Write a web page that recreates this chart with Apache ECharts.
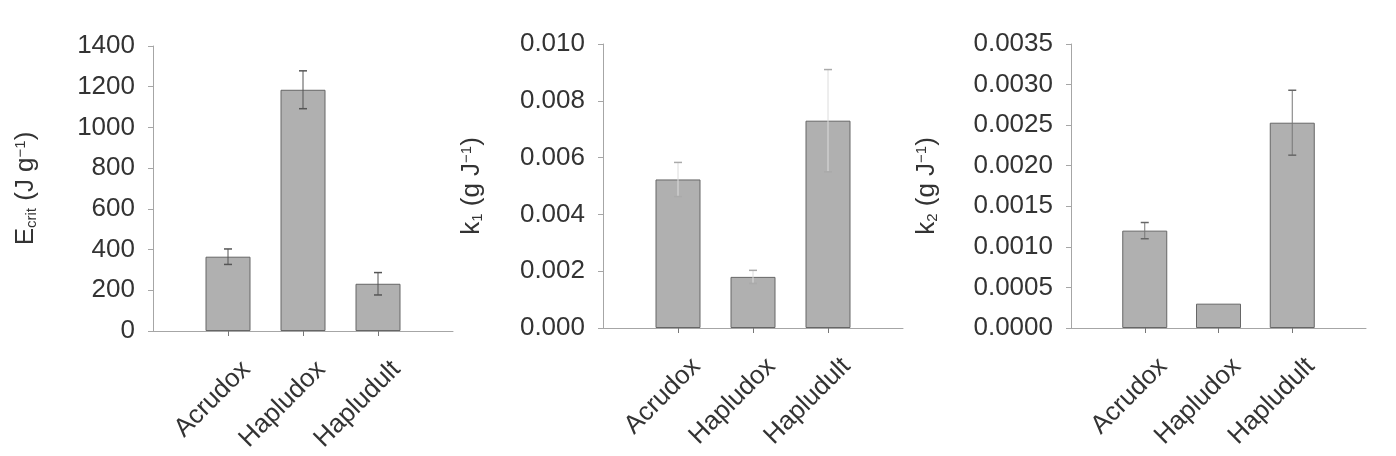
<!DOCTYPE html>
<html>
<head>
<meta charset="utf-8">
<script src="https://cdn.jsdelivr.net/npm/echarts@6/dist/echarts.min.js"></script>
<style>
  html, body { margin: 0; padding: 0; background: #fff; }
  #chart { width: 1396px; height: 456px; }
</style>
</head>
<body>
<div id="chart"></div>
<script>
// soil orders on the x axis (same for all three panels)
const categories = ["Acrudox", "Hapludox", "Hapludult"]

// panel 1: Ecrit (J g-1)
const ecrit = [365, 1185, 232]
const ecritErr = [38, 93, 55]

// panel 2: k1 (g J-1)
const k1 = [0.00523, 0.0018, 0.0073]
const k1Err = [0.0006, 0.00023, 0.0018]

// panel 3: k2 (g J-1)
const k2 = [0.0012, 0.0003, 0.00253]
const k2Err = [0.0001, 0, 0.0004]

const FONT = '"Liberation Sans", Arial, sans-serif'
const TEXT = "#333"
const AXIS = "#a6a6a6"

// blank slot on each side so bars sit on positions 1..3 of 0..4
const axisData = ["", ...categories, ""]
const showInner = (i) => i >= 1 && i <= categories.length

// outerBoundsMode none: keep the plot boxes where they are, labels may hang out
const grids = [
  { left: 153, top: 46, width: 300, height: 285, outerBoundsMode: "none" },
  { left: 603, top: 44, width: 300, height: 284, outerBoundsMode: "none" },
  { left: 1071, top: 44, width: 295, height: 284, outerBoundsMode: "none" },
]

const panels = [
  { values: ecrit, errs: ecritErr, max: 1400, step: 200, digits: 0, gap: 114,
    name: "{m|E}{sub|crit}{m| (J g}{sup|−1}{m|)}", errColor: "#555", errLine: "#555" },
  { values: k1, errs: k1Err, max: 0.01, step: 0.002, digits: 3, gap: 118,
    name: "{m|k}{sub|1}{m| (g J}{sup|−1}{m|)}", errColor: "#aaa", errLine: "#dcdcdc" },
  { values: k2, errs: k2Err, max: 0.0035, step: 0.0005, digits: 4, gap: 131,
    name: "{m|k}{sub|2}{m| (g J}{sup|−1}{m|)}", errColor: "#666", errLine: "#777" },
]

const nameRich = {
  m: { fontSize: 26, color: TEXT, fontFamily: FONT },
  sub: { fontSize: 15, color: TEXT, fontFamily: FONT, verticalAlign: "bottom", padding: [10, 0, 0, 0] },
  sup: { fontSize: 15, color: TEXT, fontFamily: FONT, verticalAlign: "top", padding: [0, 0, 10, 0] },
}

const xAxis = panels.map((p, i) => ({
  type: "category",
  gridIndex: i,
  data: axisData,
  boundaryGap: false,
  axisLine: { lineStyle: { color: AXIS, width: 1 } },
  axisTick: { interval: showInner, length: 5, lineStyle: { color: "#777" } },
  axisLabel: {
    interval: showInner,
    rotate: 45,
    margin: 16,
    verticalAlign: "top",
    padding: [13, 0, 0, 0],
    fontSize: 26,
    color: TEXT,
    fontFamily: FONT,
  },
}))

const yAxis = panels.map((p, i) => ({
  type: "value",
  gridIndex: i,
  min: 0,
  max: p.max,
  interval: p.step,
  name: p.name,
  nameLocation: "middle",
  nameRotate: 90,
  nameGap: p.gap,
  nameTextStyle: { rich: nameRich },
  axisLine: { show: true, lineStyle: { color: AXIS, width: 1 } },
  axisTick: { show: true, length: 5, lineStyle: { color: AXIS } },
  splitLine: { show: false },
  axisLabel: {
    margin: 18,
    fontSize: 26,
    color: TEXT,
    fontFamily: FONT,
    formatter: (v) => v.toFixed(p.digits),
  },
}))

const series = []
panels.forEach((p, i) => {
  series.push({
    type: "bar",
    xAxisIndex: i,
    yAxisIndex: i,
    barWidth: 45,
    data: [null, ...p.values, null],
    itemStyle: { color: "#b0b0b0", borderColor: "#666", borderWidth: 1 },
    silent: true,
  })
  series.push({
    type: "custom",
    xAxisIndex: i,
    yAxisIndex: i,
    silent: true,
    z: 5,
    data: p.values.map((v, j) => [j + 1, v - p.errs[j], v + p.errs[j]]),
    renderItem: (params, api) => {
      const lo = api.value(1)
      const hi = api.value(2)
      if (hi - lo <= 0) return null
      const top = api.coord([api.value(0), hi])
      const bot = api.coord([api.value(0), lo])
      const hw = 4
      return {
        type: "group",
        children: [
          { type: "line", shape: { x1: top[0], y1: top[1], x2: bot[0], y2: bot[1] },
            style: { stroke: p.errLine, lineWidth: 1 } },
          { type: "line", shape: { x1: top[0] - hw, y1: top[1], x2: top[0] + hw, y2: top[1] },
            style: { stroke: p.errColor, lineWidth: 1.5 } },
          { type: "line", shape: { x1: bot[0] - hw, y1: bot[1], x2: bot[0] + hw, y2: bot[1] },
            style: { stroke: p.errColor, lineWidth: 1.5 } },
        ],
      }
    },
  })
})

const chart = echarts.init(document.getElementById("chart"))
chart.setOption({
  animation: false,
  backgroundColor: "#fff",
  grid: grids,
  xAxis,
  yAxis,
  series,
})
</script>
</body>
</html>
